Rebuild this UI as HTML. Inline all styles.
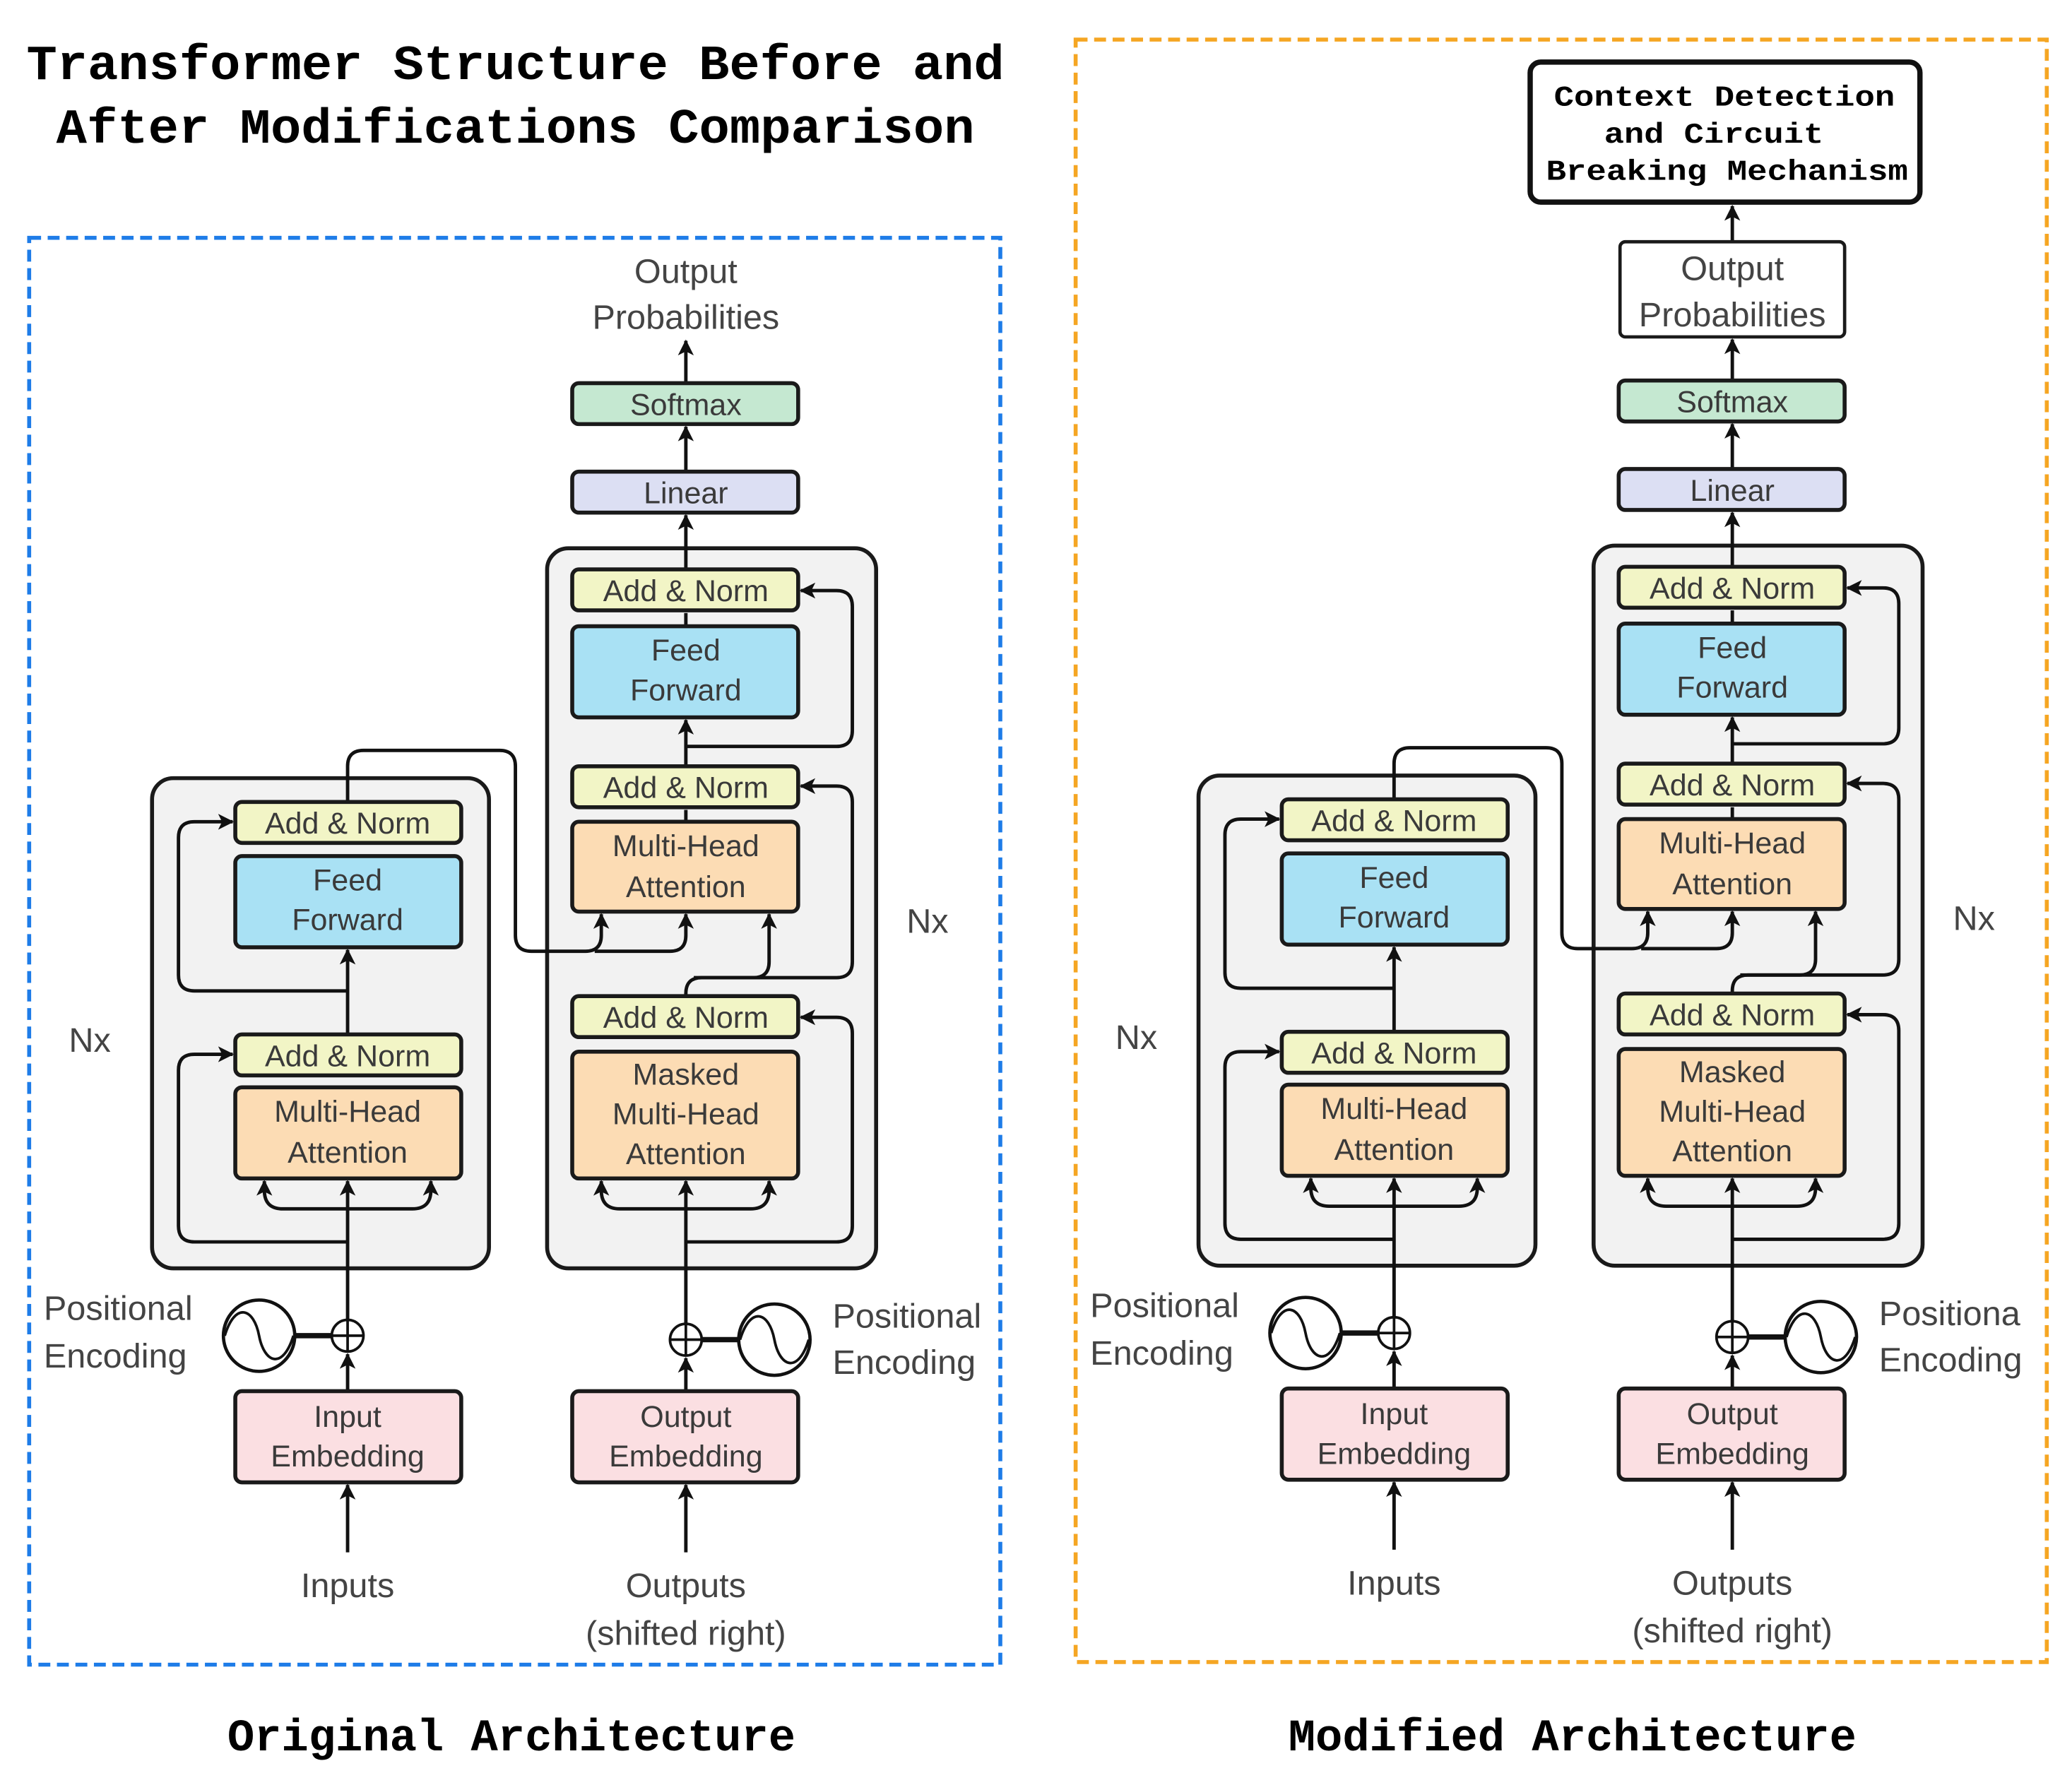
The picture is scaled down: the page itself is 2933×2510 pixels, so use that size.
<!DOCTYPE html>
<html><head><meta charset="utf-8"><style>
html,body{margin:0;padding:0;background:#fff;}
svg{display:block;}
.t{font-family:"Liberation Sans",sans-serif;font-size:23px;fill:#3a3a3a;text-anchor:middle;}
.lb{font-family:"Liberation Sans",sans-serif;font-size:26px;fill:#444;}
.m{font-family:"Liberation Mono",monospace;font-weight:bold;fill:#000;}
.ln{fill:none;stroke:#111;stroke-width:2.6;}
.bx{stroke:#1a1a1a;stroke-width:3;}
</style></head><body>
<svg width="2933" height="2510" viewBox="0 0 1568 1342" xmlns="http://www.w3.org/2000/svg">
<defs>
<marker id="a" markerUnits="userSpaceOnUse" markerWidth="14" markerHeight="14" refX="11" refY="6" orient="auto"><path d="M0,0 L12,6 L0,12 L3,6 Z" fill="#111"/></marker>
</defs>
<rect width="1568" height="1342" fill="#fff"/>
<!-- titles -->
<text class="m" x="390" y="60" font-size="37" text-anchor="middle" textLength="740" lengthAdjust="spacingAndGlyphs">Transformer Structure Before and</text>
<text class="m" x="390" y="108" font-size="37" text-anchor="middle" textLength="695" lengthAdjust="spacingAndGlyphs">After Modifications Comparison</text>
<text class="m" x="387" y="1325" font-size="34" text-anchor="middle" textLength="430" lengthAdjust="spacingAndGlyphs">Original Architecture</text>
<text class="m" x="1190" y="1325" font-size="34" text-anchor="middle" textLength="430" lengthAdjust="spacingAndGlyphs">Modified Architecture</text>
<rect x="22" y="180" width="735" height="1080" fill="none" stroke="#1e7ce8" stroke-width="3" stroke-dasharray="9 5"/>
<rect x="814" y="30" width="735" height="1228" fill="none" stroke="#f5a623" stroke-width="3" stroke-dasharray="9 5"/>

<!-- LEFT DIAGRAM -->
<g>
<rect x="115" y="589" width="255" height="371" rx="16" fill="#f2f2f2" class="bx"/>
<rect x="414" y="415" width="249" height="545" rx="16" fill="#f2f2f2" class="bx"/>
<g class="ln">
<path d="M263,1175 L263,1124" marker-end="url(#a)"/>
<path d="M263,1053 L263,1025" marker-end="url(#a)"/>
<path d="M263,999 L263,894" marker-end="url(#a)"/>
<path d="M223,1011 L251,1011" stroke-width="4"/>
<path d="M263,940 L147,940 Q135,940 135,928 L135,810 Q135,798 147,798 L176,798" marker-end="url(#a)"/>
<path d="M263,915 L214,915 Q200,915 200,901 L200,894" marker-end="url(#a)"/>
<path d="M263,915 L312,915 Q326,915 326,901 L326,894" marker-end="url(#a)"/>
<path d="M263,783 L263,719" marker-end="url(#a)"/>
<path d="M263,750 L147,750 Q135,750 135,738 L135,634 Q135,622 147,622 L176,622" marker-end="url(#a)"/>
<path d="M263,607 L263,580 Q263,568 275,568 L378,568 Q390,568 390,580 L390,708 Q390,720 402,720 L443,720 Q455,720 455,708 L455,692" marker-end="url(#a)"/>
<path d="M450,720 L507,720 Q519,720 519,708 L519,692" marker-end="url(#a)"/>
<path d="M519,754 L519,752 Q519,740 531,740 L633,740 Q645,740 645,728 L645,607 Q645,595 633,595 L606,595" marker-end="url(#a)"/>
<path d="M525,740 L570,740 Q582,740 582,728 L582,692" marker-end="url(#a)"/>
<path d="M519,1175 L519,1124" marker-end="url(#a)"/>
<path d="M519,1053 L519,1028" marker-end="url(#a)"/>
<path d="M519,1002 L519,894" marker-end="url(#a)"/>
<path d="M531,1014 L559,1014" stroke-width="4"/>
<path d="M519,940 L633,940 Q645,940 645,928 L645,782 Q645,770 633,770 L606,770" marker-end="url(#a)"/>
<path d="M519,915 L469,915 Q455,915 455,901 L455,894" marker-end="url(#a)"/>
<path d="M519,915 L568,915 Q582,915 582,901 L582,894" marker-end="url(#a)"/>
<path d="M519,622 L519,613"/>
<path d="M519,580 L519,545" marker-end="url(#a)"/>
<path d="M519,565 L633,565 Q645,565 645,553 L645,459 Q645,447 633,447 L606,447" marker-end="url(#a)"/>
<path d="M519,474 L519,464"/>
<path d="M519,431 L519,390" marker-end="url(#a)"/>
<path d="M519,357 L519,323" marker-end="url(#a)"/>
<path d="M519,290 L519,258" marker-end="url(#a)"/>
</g>
<!-- pos enc -->
<circle cx="196" cy="1011" r="27" fill="#fff" stroke="#111" stroke-width="2.5"/>
<path d="M170,1011 C178,985 192,990 196,1011 C200,1032 214,1037 222,1011" fill="none" stroke="#111" stroke-width="2"/>
<circle cx="263" cy="1011" r="12" fill="#fff" stroke="#111" stroke-width="2"/>
<path d="M251,1011 H275 M263,999 V1023" stroke="#111" stroke-width="2"/>
<circle cx="586" cy="1014" r="27" fill="#fff" stroke="#111" stroke-width="2.5"/>
<path d="M560,1014 C568,988 582,993 586,1014 C590,1035 604,1040 612,1014" fill="none" stroke="#111" stroke-width="2"/>
<circle cx="519" cy="1014" r="12" fill="#fff" stroke="#111" stroke-width="2"/>
<path d="M507,1014 H531 M519,1002 V1026" stroke="#111" stroke-width="2"/>
<!-- boxes -->
<rect x="178" y="607" width="171" height="31" rx="5" fill="#f2f5c6" class="bx"/><text class="t" x="263" y="631">Add &amp; Norm</text>
<rect x="178" y="648" width="171" height="69" rx="5" fill="#a9e1f4" class="bx"/><text class="t" x="263" y="674">Feed</text><text class="t" x="263" y="704">Forward</text>
<rect x="178" y="783" width="171" height="31" rx="5" fill="#f2f5c6" class="bx"/><text class="t" x="263" y="807">Add &amp; Norm</text>
<rect x="178" y="823" width="171" height="69" rx="5" fill="#fcdcb4" class="bx"/><text class="t" x="263" y="849">Multi-Head</text><text class="t" x="263" y="880">Attention</text>
<rect x="433" y="431" width="171" height="31" rx="5" fill="#f2f5c6" class="bx"/><text class="t" x="519" y="455">Add &amp; Norm</text>
<rect x="433" y="474" width="171" height="69" rx="5" fill="#a9e1f4" class="bx"/><text class="t" x="519" y="500">Feed</text><text class="t" x="519" y="530">Forward</text>
<rect x="433" y="580" width="171" height="31" rx="5" fill="#f2f5c6" class="bx"/><text class="t" x="519" y="604">Add &amp; Norm</text>
<rect x="433" y="622" width="171" height="68" rx="5" fill="#fcdcb4" class="bx"/><text class="t" x="519" y="648">Multi-Head</text><text class="t" x="519" y="679">Attention</text>
<rect x="433" y="754" width="171" height="31" rx="5" fill="#f2f5c6" class="bx"/><text class="t" x="519" y="778">Add &amp; Norm</text>
<rect x="433" y="796" width="171" height="96" rx="5" fill="#fcdcb4" class="bx"/><text class="t" x="519" y="821">Masked</text><text class="t" x="519" y="851">Multi-Head</text><text class="t" x="519" y="881">Attention</text>
<rect x="433" y="357" width="171" height="31" rx="5" fill="#dcdff3" class="bx"/><text class="t" x="519" y="381">Linear</text>
<rect x="433" y="290" width="171" height="31" rx="5" fill="#c5e8d1" class="bx"/><text class="t" x="519" y="314">Softmax</text>
<rect x="178" y="1053" width="171" height="69" rx="5" fill="#fbdfe2" class="bx"/><text class="t" x="263" y="1080">Input</text><text class="t" x="263" y="1110">Embedding</text>
<rect x="433" y="1053" width="171" height="69" rx="5" fill="#fbdfe2" class="bx"/><text class="t" x="519" y="1080">Output</text><text class="t" x="519" y="1110">Embedding</text>
<text class="lb" x="519" y="214" text-anchor="middle">Output</text>
<text class="lb" x="519" y="249" text-anchor="middle">Probabilities</text>
<text class="lb" x="263" y="1209" text-anchor="middle">Inputs</text>
<text class="lb" x="519" y="1209" text-anchor="middle">Outputs</text>
<text class="lb" x="519" y="1245" text-anchor="middle">(shifted right)</text>
<text class="lb" x="33" y="999">Positional</text><text class="lb" x="33" y="1035">Encoding</text>
<text class="lb" x="630" y="1005">Positional</text><text class="lb" x="630" y="1040">Encoding</text>
<text class="lb" x="52" y="796">Nx</text>
<text class="lb" x="686" y="706">Nx</text>
</g>

<!-- RIGHT DIAGRAM -->
<g transform="translate(792,-2)">
<rect x="115" y="589" width="255" height="371" rx="16" fill="#f2f2f2" class="bx"/>
<rect x="414" y="415" width="249" height="545" rx="16" fill="#f2f2f2" class="bx"/>
<g class="ln">
<path d="M263,1175 L263,1124" marker-end="url(#a)"/>
<path d="M263,1053 L263,1025" marker-end="url(#a)"/>
<path d="M263,999 L263,894" marker-end="url(#a)"/>
<path d="M223,1011 L251,1011" stroke-width="4"/>
<path d="M263,940 L147,940 Q135,940 135,928 L135,810 Q135,798 147,798 L176,798" marker-end="url(#a)"/>
<path d="M263,915 L214,915 Q200,915 200,901 L200,894" marker-end="url(#a)"/>
<path d="M263,915 L312,915 Q326,915 326,901 L326,894" marker-end="url(#a)"/>
<path d="M263,783 L263,719" marker-end="url(#a)"/>
<path d="M263,750 L147,750 Q135,750 135,738 L135,634 Q135,622 147,622 L176,622" marker-end="url(#a)"/>
<path d="M263,607 L263,580 Q263,568 275,568 L378,568 Q390,568 390,580 L390,708 Q390,720 402,720 L443,720 Q455,720 455,708 L455,692" marker-end="url(#a)"/>
<path d="M450,720 L507,720 Q519,720 519,708 L519,692" marker-end="url(#a)"/>
<path d="M519,754 L519,752 Q519,740 531,740 L633,740 Q645,740 645,728 L645,607 Q645,595 633,595 L606,595" marker-end="url(#a)"/>
<path d="M525,740 L570,740 Q582,740 582,728 L582,692" marker-end="url(#a)"/>
<path d="M519,1175 L519,1124" marker-end="url(#a)"/>
<path d="M519,1053 L519,1028" marker-end="url(#a)"/>
<path d="M519,1002 L519,894" marker-end="url(#a)"/>
<path d="M531,1014 L559,1014" stroke-width="4"/>
<path d="M519,940 L633,940 Q645,940 645,928 L645,782 Q645,770 633,770 L606,770" marker-end="url(#a)"/>
<path d="M519,915 L469,915 Q455,915 455,901 L455,894" marker-end="url(#a)"/>
<path d="M519,915 L568,915 Q582,915 582,901 L582,894" marker-end="url(#a)"/>
<path d="M519,622 L519,613"/>
<path d="M519,580 L519,545" marker-end="url(#a)"/>
<path d="M519,565 L633,565 Q645,565 645,553 L645,459 Q645,447 633,447 L606,447" marker-end="url(#a)"/>
<path d="M519,474 L519,464"/>
<path d="M519,431 L519,390" marker-end="url(#a)"/>
<path d="M519,357 L519,323" marker-end="url(#a)"/>
<path d="M519,290 L519,259" marker-end="url(#a)"/>
<path d="M519,185 L519,158" marker-end="url(#a)"/>
</g>
<circle cx="196" cy="1011" r="27" fill="#fff" stroke="#111" stroke-width="2.5"/>
<path d="M170,1011 C178,985 192,990 196,1011 C200,1032 214,1037 222,1011" fill="none" stroke="#111" stroke-width="2"/>
<circle cx="263" cy="1011" r="12" fill="#fff" stroke="#111" stroke-width="2"/>
<path d="M251,1011 H275 M263,999 V1023" stroke="#111" stroke-width="2"/>
<circle cx="586" cy="1014" r="27" fill="#fff" stroke="#111" stroke-width="2.5"/>
<path d="M560,1014 C568,988 582,993 586,1014 C590,1035 604,1040 612,1014" fill="none" stroke="#111" stroke-width="2"/>
<circle cx="519" cy="1014" r="12" fill="#fff" stroke="#111" stroke-width="2"/>
<path d="M507,1014 H531 M519,1002 V1026" stroke="#111" stroke-width="2"/>
<rect x="178" y="607" width="171" height="31" rx="5" fill="#f2f5c6" class="bx"/><text class="t" x="263" y="631">Add &amp; Norm</text>
<rect x="178" y="648" width="171" height="69" rx="5" fill="#a9e1f4" class="bx"/><text class="t" x="263" y="674">Feed</text><text class="t" x="263" y="704">Forward</text>
<rect x="178" y="783" width="171" height="31" rx="5" fill="#f2f5c6" class="bx"/><text class="t" x="263" y="807">Add &amp; Norm</text>
<rect x="178" y="823" width="171" height="69" rx="5" fill="#fcdcb4" class="bx"/><text class="t" x="263" y="849">Multi-Head</text><text class="t" x="263" y="880">Attention</text>
<rect x="433" y="431" width="171" height="31" rx="5" fill="#f2f5c6" class="bx"/><text class="t" x="519" y="455">Add &amp; Norm</text>
<rect x="433" y="474" width="171" height="69" rx="5" fill="#a9e1f4" class="bx"/><text class="t" x="519" y="500">Feed</text><text class="t" x="519" y="530">Forward</text>
<rect x="433" y="580" width="171" height="31" rx="5" fill="#f2f5c6" class="bx"/><text class="t" x="519" y="604">Add &amp; Norm</text>
<rect x="433" y="622" width="171" height="68" rx="5" fill="#fcdcb4" class="bx"/><text class="t" x="519" y="648">Multi-Head</text><text class="t" x="519" y="679">Attention</text>
<rect x="433" y="754" width="171" height="31" rx="5" fill="#f2f5c6" class="bx"/><text class="t" x="519" y="778">Add &amp; Norm</text>
<rect x="433" y="796" width="171" height="96" rx="5" fill="#fcdcb4" class="bx"/><text class="t" x="519" y="821">Masked</text><text class="t" x="519" y="851">Multi-Head</text><text class="t" x="519" y="881">Attention</text>
<rect x="433" y="357" width="171" height="31" rx="5" fill="#dcdff3" class="bx"/><text class="t" x="519" y="381">Linear</text>
<rect x="433" y="290" width="171" height="31" rx="5" fill="#c5e8d1" class="bx"/><text class="t" x="519" y="314">Softmax</text>
<rect x="178" y="1053" width="171" height="69" rx="5" fill="#fbdfe2" class="bx"/><text class="t" x="263" y="1080">Input</text><text class="t" x="263" y="1110">Embedding</text>
<rect x="433" y="1053" width="171" height="69" rx="5" fill="#fbdfe2" class="bx"/><text class="t" x="519" y="1080">Output</text><text class="t" x="519" y="1110">Embedding</text>
<rect x="434" y="185" width="170" height="72" rx="4" fill="#fff" stroke="#1a1a1a" stroke-width="2.5"/>
<text class="lb" x="519" y="214" text-anchor="middle">Output</text>
<text class="lb" x="519" y="249" text-anchor="middle">Probabilities</text>
<rect x="366" y="49" width="295" height="106" rx="8" fill="#fff" stroke="#111" stroke-width="4"/>
<text class="m" x="513" y="82" font-size="22" text-anchor="middle" textLength="258" lengthAdjust="spacingAndGlyphs">Context Detection</text>
<text class="m" x="505" y="110" font-size="22" text-anchor="middle" textLength="166" lengthAdjust="spacingAndGlyphs">and Circuit</text>
<text class="m" x="515" y="138" font-size="22" text-anchor="middle" textLength="274" lengthAdjust="spacingAndGlyphs">Breaking Mechanism</text>
<text class="lb" x="263" y="1209" text-anchor="middle">Inputs</text>
<text class="lb" x="519" y="1209" text-anchor="middle">Outputs</text>
<text class="lb" x="519" y="1245" text-anchor="middle">(shifted right)</text>
<text class="lb" x="33" y="999">Positional</text><text class="lb" x="33" y="1035">Encoding</text>
<text class="lb" x="630" y="1005">Positiona</text><text class="lb" x="630" y="1040">Encoding</text>
<text class="lb" x="52" y="796">Nx</text>
<text class="lb" x="686" y="706">Nx</text>
</g>
</svg>
</body></html>
